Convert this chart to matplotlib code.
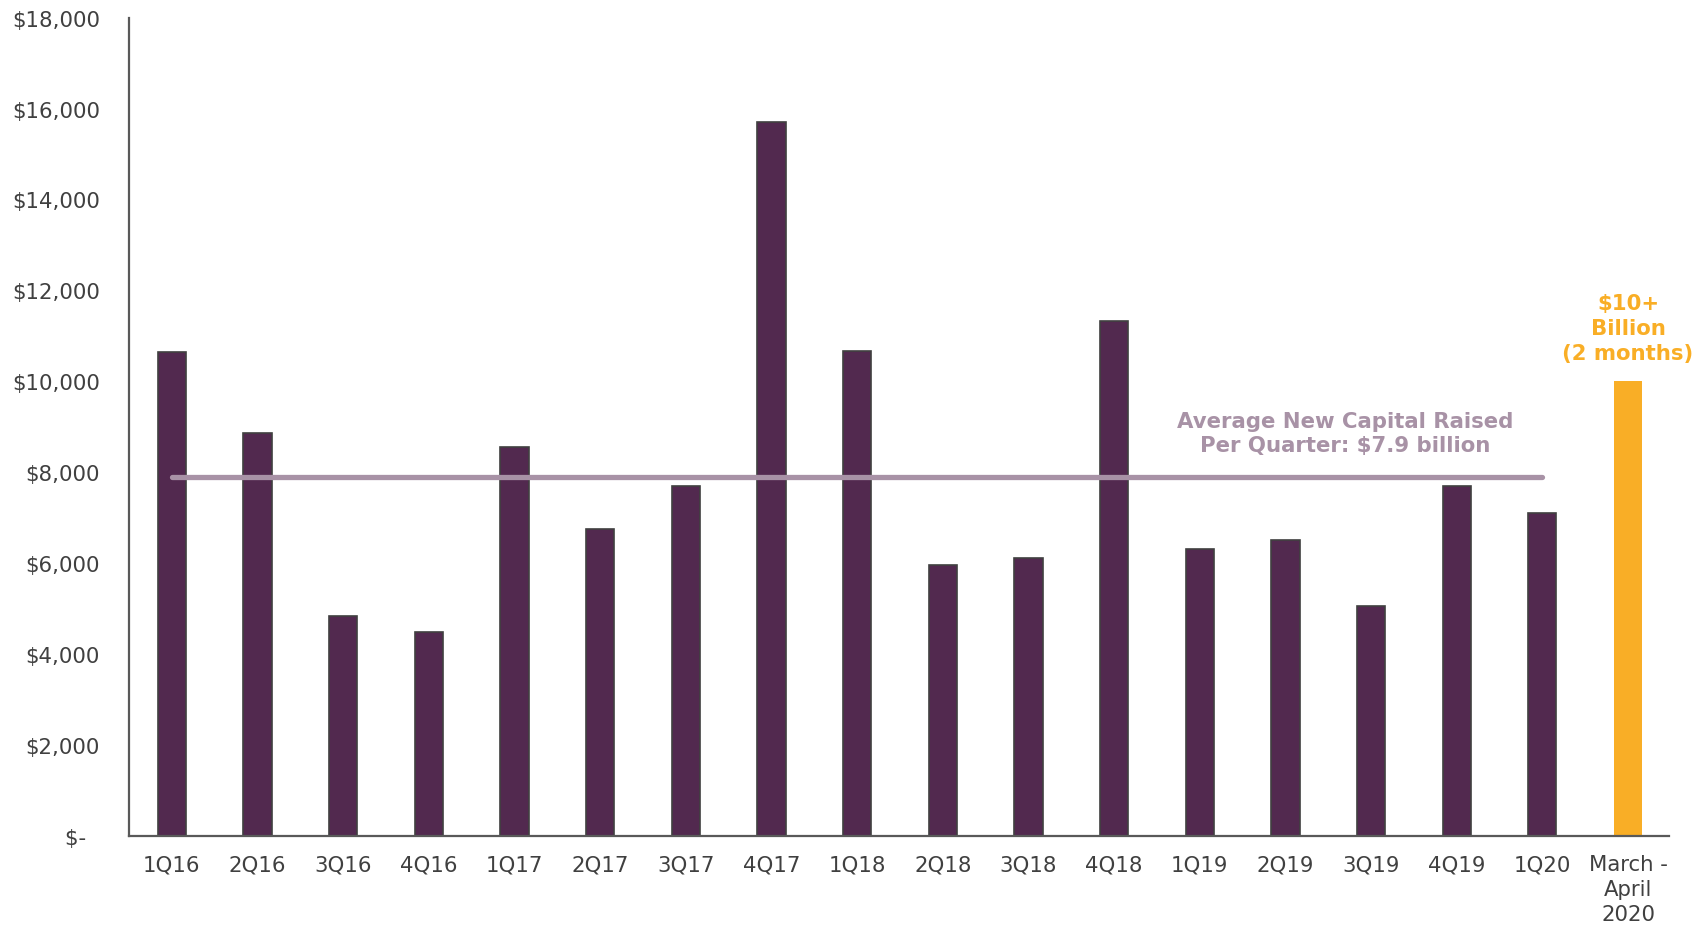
import matplotlib.pyplot as plt
from matplotlib.ticker import FuncFormatter

quarters = ['1Q16', '2Q16', '3Q16', '4Q16', '1Q17', '2Q17', '3Q17', '4Q17', '1Q18',
            '2Q18', '3Q18', '4Q18', '1Q19', '2Q19', '3Q19', '4Q19', '1Q20']
capital = [10640, 8860, 4830, 4480, 8550, 6760, 7690, 15710, 10670,
           5950, 6120, 11330, 6310, 6520, 5050, 7690, 7100]
recent_label = 'March -\nApril\n2020'
recent_value = 10000
average = 7900

purple = '#52294F'
orange = '#F9AE26'
avg_color = '#A892A6'
text_color = '#404040'

plt.rcParams['font.family'] = ['DejaVu Sans']

fig = plt.figure(figsize=(16.98, 9.28), dpi=100)
ax = fig.add_axes([0.076, 0.098, 0.907, 0.882])

x = list(range(len(quarters)))
ax.bar(x, capital, width=0.33, color=purple, edgecolor='#404040', linewidth=1.2, zorder=2)
ax.bar(len(quarters), recent_value, width=0.33, color=orange, zorder=2)

# average line across the quarterly bars
ax.plot([0, len(quarters) - 1], [average, average], color=avg_color, lw=3.8,
        solid_capstyle='round', zorder=3)
ax.text(13.7, 8860, 'Average New Capital Raised\nPer Quarter: $7.9 billion',
        ha='center', va='center', color=avg_color, fontsize=15.3, fontweight='bold',
        linespacing=1.28)
ax.text(len(quarters), 11170, '$10+\nBillion\n(2 months)', ha='center', va='center',
        color=orange, fontsize=15.3, fontweight='bold', linespacing=1.3)

ax.set_xlim(-0.5, len(quarters) + 0.48)
ax.set_ylim(0, 18000)
ax.set_yticks(range(0, 18001, 2000))
ax.yaxis.set_major_formatter(FuncFormatter(lambda v, p: '$-  ' if v == 0 else f'${v:,.0f}'))
ax.set_xticks(x + [len(quarters)])
ax.set_xticklabels(quarters + [recent_label], linespacing=1.3)

ax.tick_params(axis='both', length=0, labelsize=15.3, labelcolor=text_color)
ax.tick_params(axis='y', pad=21)
ax.tick_params(axis='x', pad=13)

for side in ['top', 'right']:
    ax.spines[side].set_visible(False)
for side in ['left', 'bottom']:
    ax.spines[side].set_color('#595959')
    ax.spines[side].set_linewidth(1.6)

plt.savefig('out.png', dpi=100)
